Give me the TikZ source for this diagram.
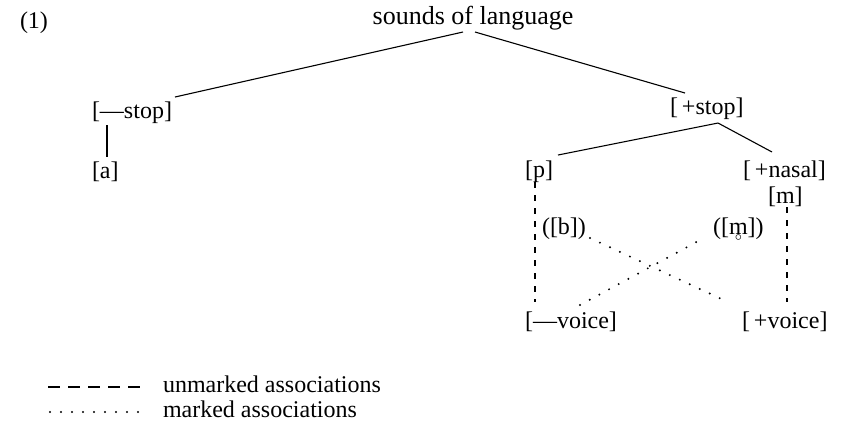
\documentclass[tikz,border=0pt]{standalone}
\usepackage{fontspec}
\setmainfont{Liberation Serif}
\usetikzlibrary{calc}
\newcommand{\ringm}{\ooalign{m\cr\hidewidth\raisebox{-0.55ex}{$\scriptscriptstyle\circ$}\hidewidth\cr}}
\begin{document}
\begin{tikzpicture}[x=0.5pt,y=-0.5pt,
  lbl/.style={inner sep=0pt, outer sep=0pt, font=\fontsize{12}{14}\selectfont, anchor=base west},
  tree/.style={line width=0.55pt},
  unmk/.style={line width=0.55pt, dash pattern=on 3pt off 3.5pt},
  mk/.style={line width=1.1pt, line cap=round, dash pattern=on 0pt off 5.5pt}]
\useasboundingbox (0,0) rectangle (854,425);

% labels
\node[lbl] (one) at (20,28) {(1)};
\node[lbl, anchor=base, font=\fontsize{13}{15}\selectfont] (sol) at (473,24) {sounds of language};
\node[lbl] (mstop) at (92,118) {[---stop]};
\node[lbl] (a) at (92,178) {[a]};
\node[lbl] (pstop) at (670,114) {[\,+stop]};
\node[lbl] (p) at (525,177) {[p]};
\node[lbl] (nasal) at (743,177) {[\,+nasal]};
\node[lbl] (m) at (768,203) {[m]};
\node[lbl] (b) at (542,234) {([b])};
\node[lbl] (mr) at (713,234) {([\ringm])};
\node[lbl] (mv) at (525,328) {[---voice]};
\node[lbl] (pv) at (742,328) {[\,+voice]};

% tree lines
\draw[tree] ($(sol.base)+(-10,8)$) -- ($(mstop.base east)+(3,-21)$);
\draw[tree] ($(sol.base)+(2,8)$) -- ($(pstop.base west)+(15,-21)$);
\draw[tree] ($(pstop.base west)+(48,9)$) -- ($(p.base east)+(5,-22)$);
\draw[tree] ($(pstop.base west)+(48,9)$) -- ($(nasal.base west)+(29,-25)$);
\draw[tree] ($(mstop.base west)+(15,7)$) -- ($(a.base west)+(15,-21)$);

% unmarked associations
\draw[unmk] ($(p.base west)+(10,5)$) -- ($(mv.base west)+(10,-26)$);
\draw[unmk] ($(m.base west)+(19,4)$) -- ($(pv.base west)+(45,-26)$);

% marked associations
\draw[mk] ($(b.base east)+(4,4)$) -- ($(pv.base west)+(-14,-26)$);
\draw[mk] ($(mv.base west)+(55,-23)$) -- ($(mr.base west)+(-11,5)$);

% legend
\coordinate (l1a) at (48,387);
\coordinate (l1b) at (140,387);
\coordinate (l2a) at (50,412);
\coordinate (l2b) at (140,412);
\draw[line width=0.55pt, dash pattern=on 6pt off 4pt] (l1a) -- (l1b);
\draw[mk] (l2a) -- (l2b);
\node[lbl] (lun) at (163,392) {unmarked associations};
\node[lbl] (lmk) at (163,417) {marked associations};
\end{tikzpicture}
\end{document}
